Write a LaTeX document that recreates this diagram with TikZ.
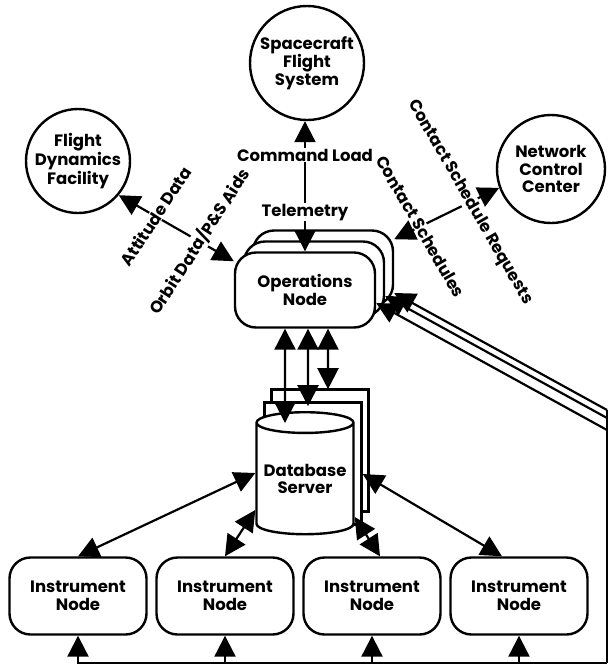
\documentclass[tikz,border=0pt]{standalone}
\usepackage{fontspec}
\setmainfont{Poppins}
\usetikzlibrary{arrows.meta,shapes.geometric}
\newcommand{\diagfont}{\fontsize{16.5}{17.5}\selectfont\bfseries}
\tikzset{
	site/.style={circle, draw, line width=2.4pt, inner sep=0pt, minimum size=#1, align=center, font=\diagfont},
	opsbox/.style={rectangle, rounded corners=21pt, draw, fill=white, line width=2.4pt, minimum width=140pt, minimum height=75pt, align=center, font=\diagfont},
	instbox/.style={opsbox, minimum width=137pt, minimum height=77pt},
	dbcyl/.style={cylinder, shape border rotate=90, aspect=0.25, draw, fill=white, line width=2.4pt, minimum width=97pt, minimum height=122pt, inner sep=0pt, align=center, font=\diagfont},
	wire/.style={line width=2.2pt},
	flow/.style={wire, -{Triangle[length=21pt,width=21pt]}},
	twoway/.style={wire, {Triangle[length=21pt,width=21pt]}-{Triangle[length=21pt,width=21pt]}},
	tag/.style={fill=white, inner sep=0.5pt, font=\diagfont}
}

\begin{document}
\begin{tikzpicture}[x=1pt, y=-1pt]
			%%%%% START %%%%%
			\useasboundingbox (0,0) rectangle (610,670);
			
			\node[site=104pt] (fdf) at (78,161) {Flight\\Dynamics\\Facility};
			\node[site=114pt] (sfs) at (307,63) {Spacecraft\\Flight\\System};
			\node[site=108pt] (ncc) at (551,169) {Network\\Control\\Center};
			
			\node[opsbox] (ops3) at (323,268) {};
			\node[opsbox] (ops2) at (314,279) {};
			\node[opsbox] (ops) at (305,290) {Operations\\Node};
			
			\node[dbcyl] (db3) at (320,451) {};
			\node[dbcyl] (db2) at (313,464) {};
			\node[dbcyl] (db1) at (305,479) {Database\\Server};
			
			\node[instbox] (inst1) at (78,596) {Instrument\\Node};
			\node[instbox] (inst2) at (225,596) {Instrument\\Node};
			\node[instbox] (inst3) at (372,596) {Instrument\\Node};
			\node[instbox] (inst4) at (519,596) {Instrument\\Node};
			
			\draw[twoway] (ops.north) -- (ops.north |- sfs.south) node[tag, pos=0.3] {Telemetry} node[tag, pos=0.74] {Command Load};
			\draw[twoway] (ops.158) -- (fdf.-40) node[tag, rotate=57, pos=0.3] {Orbit Data/P\&S Aids} node[tag, rotate=57, pos=0.68] {Attitude Data};
			\draw[twoway] (ops3.22) -- (ncc.200) node[tag, rotate=-60, pos=0.25] {Contact Schedules} node[tag, rotate=-60, pos=0.72] {Contact Schedule Requests};
			
			\draw[twoway] ([xshift=-20pt]ops.south) -- ([xshift=-20pt, yshift=-12pt]db1.north);
			\draw[twoway] ([xshift=3pt]ops.south) -- ([xshift=-5pt, yshift=-5pt]db2.north);
			\draw[twoway] ([xshift=23pt]ops.south) -- ([xshift=8pt, yshift=-1pt]db3.north);
			
			\draw[twoway] ([yshift=6pt]db1.west) -- (inst1.north);
			\draw[twoway] ([yshift=-31pt]db1.west) -- (inst2.north);
			\draw[twoway] ([yshift=-38pt]db1.east) -- ([xshift=8pt]inst3.north);
			\draw[twoway] ([yshift=-10pt]db2.east) -- ([xshift=-17pt]inst4.north);
			
			\coordinate (tapA) at (607,430);
			\coordinate (tapB) at (607,418);
			\coordinate (tapC) at (607,410);
			\coordinate (busEnd) at (607,663);
			\draw[flow] (tapA) -- ([yshift=-13pt]ops.east);
			\draw[flow] (tapB) -- ([yshift=-17pt]ops2.east);
			\draw[flow] (tapC) -- ([yshift=-25pt]ops3.east);
			\draw[wire] (tapC) -- (busEnd);
			\draw[flow] (busEnd) -| (inst1.south);
			\foreach \n in {inst2,inst3,inst4}
				\draw[flow] (\n.south |- busEnd) -- (\n.south);
			%%%%% END %%%%%
\end{tikzpicture}
\end{document}
